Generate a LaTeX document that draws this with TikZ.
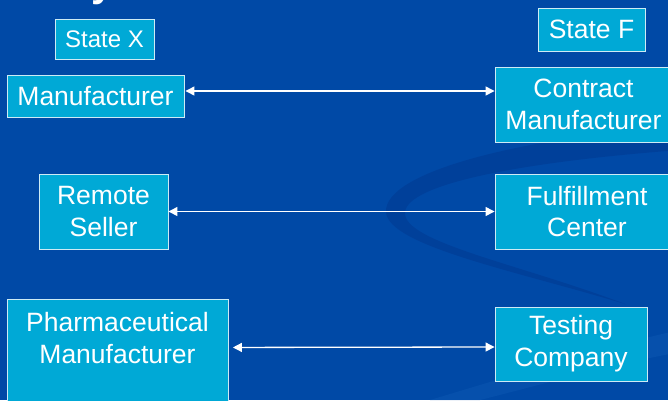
\documentclass[tikz,border=0pt]{standalone}
\usepackage{fontspec}
\setmainfont{Liberation Sans}
\usetikzlibrary{arrows.meta}
\definecolor{bgblue}{HTML}{0049A6}
\definecolor{swoosh}{HTML}{003E98}
\definecolor{glow}{HTML}{0A55B0}
\definecolor{boxfill}{HTML}{00A9D6}
\definecolor{boxline}{HTML}{CDEBF5}
\begin{document}
\begin{tikzpicture}[x=1pt,y=-1pt,
  box/.style={draw=boxline, line width=0.9pt, fill=boxfill, text=white,
    align=center, inner sep=0pt, font=\fontsize{26.5}{31.8}\selectfont},
  label/.style={text=white, align=center, inner sep=0pt,
    font=\fontsize{26.5}{31.8}\selectfont},
  link/.style={draw=white, line width=1.3pt,
    {Triangle[length=9pt,width=9pt]}-{Triangle[length=9pt,width=9pt]}}]
  % page and background
  \useasboundingbox (0,0) rectangle (668,400);
  \clip (0,0) rectangle (668,400);
  \fill[bgblue] (0,0) rectangle (668,400);
  % faint light band lower right
  \fill[glow, opacity=0.6] (430,400) .. controls (530,370) and (610,345) .. (680,330)
    -- (680,352) .. controls (610,365) and (540,385) .. (480,400) -- cycle;
  % dark swoosh
  \fill[swoosh, opacity=0.8] (680,126) .. controls (520,138) and (384,172) .. (386,212)
    .. controls (388,246) and (520,272) .. (625,304)
    .. controls (520,264) and (402,242) .. (405,212)
    .. controls (408,184) and (520,162) .. (680,150) -- cycle;
  % title descender peeking in at the top
  \node[text=white, anchor=base, inner sep=0pt,
    font=\bfseries\fontsize{40}{40}\selectfont] (title) at (103,-4) {y};

  % state headings
  \node[box, minimum width=99pt, minimum height=40pt,
    font=\fontsize{24}{28}\selectfont] (sx) at (104.5,39) {State X};
  \node[box, minimum width=107pt, minimum height=43pt] (sf) at (591.5,29.5) {State F};

  % left column
  \node[box, minimum width=177pt, minimum height=42pt] (man) at (95.5,96) {Manufacturer};
  \node[box, minimum width=129pt, minimum height=75pt] (remote) at (103.5,211.5) {Remote\\Seller};
  \node[box, minimum width=221pt, minimum height=104pt, anchor=north west] (pharma) at (7,299) {};
  \node[label] (pharmatext) at (117.5,338) {Pharmaceutical\\Manufacturer};

  % right column
  \node[box, minimum width=177pt, minimum height=75pt] (contract) at (583.5,104.5) {Contract\\Manufacturer};
  \node[box, minimum width=184pt, minimum height=75pt] (fulfill) at (587,211.5) {Fulfillment\\Center};
  \node[box, minimum width=152pt, minimum height=74pt] (testing) at (571,344) {Testing\\Company};

  % relationships
  \draw[link, shorten <=1pt] ([yshift=5pt]man.east) -- ([yshift=13.5pt]contract.west);
  \draw[link] (remote.east) -- (fulfill.west);
  \draw[link, shorten <=4pt] ([yshift=4pt]pharma.east) -- ([yshift=-3pt]testing.west);
\end{tikzpicture}
\end{document}
